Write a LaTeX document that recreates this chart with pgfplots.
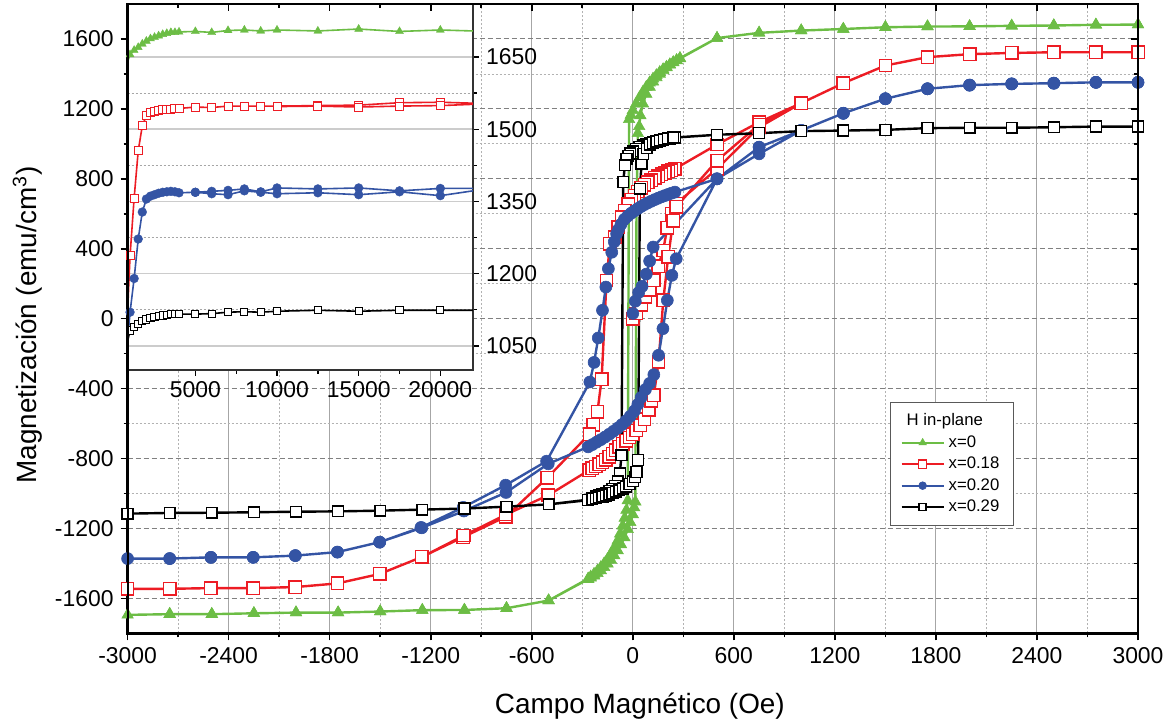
\documentclass[border=0pt]{standalone}
\usepackage{fontspec}
\setmainfont{Liberation Sans}
\usepackage{pgfplots}
\pgfplotsset{compat=1.18}
\definecolor{cgreen}{RGB}{108,189,69}
\definecolor{cred}{RGB}{237,28,36}
\definecolor{cblue}{RGB}{52,84,164}
\begin{document}
\begin{tikzpicture}
\pgfplotsset{/pgf/number format/1000 sep={}, /pgf/number format/assume math mode=true}
\begin{axis}[name=main, width=505.2bp, height=314.7bp, scale only axis,
  xmin=-3000, xmax=3000, ymin=-1800, ymax=1800,
  xtick={-3000,-2400,...,3000}, ytick={-1600,-1200,...,1600},
  minor x tick num=1, minor y tick num=1,
  xtick pos=left, ytick pos=left, tick align=outside,
  major tick length=3.5bp, minor tick length=2bp,
  every tick/.style={black, line width=0.8bp},
  grid=both,
  major x grid style={black!35, line width=0.5bp},
  major y grid style={black!50, dash pattern=on 2.5bp off 1.5bp, line width=0.5bp},
  minor x grid style={black!30, dash pattern=on 1bp off 1bp, line width=0.4bp},
  minor y grid style={black!30, dash pattern=on 1bp off 1bp, line width=0.4bp},
  axis line style={line width=1.1bp},
  ticklabel style={font=\fontsize{11.5}{13}\selectfont},
  xlabel={Campo Magnético (Oe)},
  ylabel={Magnetización (emu/cm\textsuperscript{3})},
  label style={font=\fontsize{14}{16}\selectfont},
  xlabel style={at={(axis description cs:0.507,-0.116)}, anchor=center},
  ylabel style={at={(axis description cs:-0.099,0.49)}, anchor=center},
  legend style={at={(axis description cs:0.7546,0.3677)}, anchor=north west,
    draw=black!65, line width=0.6bp, font=\fontsize{8.4}{9.5}\selectfont,
    inner xsep=5bp, inner ysep=3.5bp, row sep=-0.6bp, cells={anchor=west}},
  legend image code/.code={\draw[mark repeat=2,mark phase=2,line width=1bp,every mark/.append style={scale=0.65}] plot coordinates {(0bp,0bp) (10.5bp,0bp) (21bp,0bp)};},
]
\addlegendimage{legend image code/.code={}}
\addlegendentry{\hspace*{-21bp}H in-plane}
% x = 0
\addplot[cgreen, line width=1.2bp, mark=triangle*, mark size=3.3bp, mark options={fill=cgreen, draw=cgreen, line width=0.3bp}] coordinates {
(3000,1682)(2750,1681)(2500,1677)(2250,1675)(2000,1672)(1750,1671)(1500,1667)(1250,1657)(1000,1648)(750,1635)(500,1605)(280,1490)(260,1478)(240,1466)(220,1454)(200,1440)(180,1426)(160,1410)(140,1392)(120,1372)(100,1350)(80,1325)(60,1297)(40,1265)(20,1230)(0,1192)(-12,1165)(-22,1140)(-30,-1040)(-38,-1095)(-48,-1140)(-60,-1185)(-75,-1230)(-90,-1270)(-110,-1310)(-130,-1345)(-150,-1375)(-170,-1400)(-190,-1422)(-210,-1442)(-230,-1460)(-250,-1476)(-265,-1487)(-500,-1612)(-750,-1656)(-1000,-1666)(-1250,-1667)(-1500,-1675)(-1750,-1681)(-2000,-1681)(-2250,-1685)(-2500,-1690)(-2750,-1690)(-3000,-1694)
(-2750,-1690)(-2500,-1690)(-2250,-1685)(-2000,-1681)(-1750,-1681)(-1500,-1675)(-1250,-1667)(-1000,-1666)(-750,-1656)(-500,-1612)(-265,-1490)(-250,-1482)(-230,-1470)(-210,-1456)(-190,-1440)(-170,-1422)(-150,-1402)(-130,-1380)(-110,-1355)(-90,-1326)(-70,-1292)(-50,-1252)(-30,-1205)(-15,-1165)(0,-1120)(8,-1080)(15,-1047)(22,638)(30,1060)(38,1100)(45,1162)(60,1230)(80,1285)(100,1325)(120,1355)(140,1380)(160,1400)(180,1420)(200,1437)(220,1452)(240,1465)(260,1477)(280,1488)(500,1605)(750,1635)(1000,1648)(1250,1657)(1500,1667)(1750,1671)(2000,1672)(2250,1675)(2500,1677)(2750,1681)(3000,1682)
};
\addlegendentry{x=0}
% x = 0.18
\addplot[cred, line width=1.2bp, mark=square*, mark size=3.1bp, mark options={fill=white, draw=cred, line width=0.7bp}] coordinates {
(0,0)(20,30)(50,80)(75,125)(100,165)(125,220)(150,300)(180,390)(205,520)(232,600)(258,658)(500,857)(750,1095)(1000,1233)(1250,1347)(1500,1448)(1750,1496)(2000,1513)(2250,1520)(2500,1524)(2750,1524)(3000,1524)
(2750,1524)(2500,1524)(2250,1520)(2000,1513)(1750,1496)(1500,1448)(1250,1347)(1000,1233)(750,1124)(500,996)(250,857)(230,850)(210,843)(190,835)(170,826)(150,816)(130,805)(110,793)(90,780)(70,765)(50,748)(30,728)(10,705)(-10,680)(-27,655)(-47,619)(-67,581)(-87,524)(-106,467)(-136,429)(-156,219)(-185,-345)(-210,-533)(-235,-606)(-257,-660)(-508,-910)(-755,-1133)(-1007,-1249)(-1253,-1363)(-1503,-1460)(-1754,-1514)(-2004,-1535)(-2254,-1541)(-2505,-1541)(-2750,-1545)(-3000,-1545)
(-2750,-1545)(-2505,-1541)(-2254,-1541)(-2004,-1535)(-1754,-1514)(-1503,-1460)(-1253,-1363)(-1003,-1240)(-753,-1120)(-502,-1010)(-259,-866)(-240,-855)(-220,-845)(-200,-833)(-180,-820)(-160,-806)(-140,-790)(-120,-772)(-100,-752)(-80,-733)(-60,-715)(-40,-698)(-20,-680)(0,-660)(20,-640)(45,-610)(70,-575)(95,-520)(110,-470)(125,-438)(153,-247)(181,105)(210,353)(240,560)(258,640)(500,904)(750,1110)(1000,1233)(1250,1347)(1500,1448)(1750,1496)(2000,1513)(2250,1520)(2500,1524)(2750,1524)(3000,1524)
};
\addlegendentry{x=0.18}
% x = 0.20
\addplot[cblue, line width=1.2bp, mark=*, mark size=3bp, mark options={fill=cblue, draw=cblue, line width=0.3bp}] coordinates {
(0,30)(15,100)(35,150)(55,185)(80,255)(100,330)(121,410)(500,800)(750,943)(1000,1077)(1250,1175)(1500,1258)(1750,1315)(2000,1336)(2250,1343)(2500,1347)(2750,1352)(3000,1352)
(2750,1352)(2500,1347)(2250,1343)(2000,1336)(1750,1315)(1500,1258)(1250,1175)(1000,1077)(750,981)(500,800)(250,724)(230,718)(210,711)(190,704)(170,697)(150,689)(130,681)(110,672)(90,663)(70,653)(50,642)(30,630)(10,617)(-10,603)(-30,587)(-50,568)(-70,540)(-85,510)(-96,486)(-110,440)(-125,380)(-145,286)(-160,181)(-180,48)(-205,-110)(-230,-250)(-255,-362)(-512,-815)(-755,-952)(-1007,-1079)(-1258,-1194)(-1503,-1278)(-1754,-1335)(-2004,-1355)(-2254,-1365)(-2505,-1365)(-2750,-1372)(-3000,-1372)
(-2750,-1372)(-2505,-1365)(-2254,-1365)(-2004,-1355)(-1754,-1335)(-1503,-1278)(-1253,-1196)(-1003,-1100)(-753,-994)(-502,-830)(-265,-733)(-240,-720)(-215,-706)(-190,-692)(-165,-677)(-140,-661)(-115,-644)(-90,-626)(-65,-606)(-40,-584)(-15,-558)(10,-527)(30,-490)(50,-450)(75,-405)(100,-370)(125,-320)(153,-209)(179,-57)(205,105)(232,248)(258,343)(500,800)(750,981)(1000,1077)(1250,1175)(1500,1258)(1750,1315)(2000,1336)(2250,1343)(2500,1347)(2750,1352)(3000,1352)
};
\addlegendentry{x=0.20}
% x = 0.29
\addplot[black, line width=1.2bp, mark=square*, mark size=2.7bp, mark options={fill=white, draw=black, line width=0.7bp}] coordinates {
(3000,1099)(2750,1099)(2500,1095)(2250,1092)(2000,1092)(1750,1090)(1500,1080)(1250,1076)(1000,1073)(750,1061)(500,1052)(250,1036)(220,1031)(200,1027)(180,1023)(160,1019)(140,1015)(120,1010)(100,1004)(80,999)(60,991)(40,981)(20,971)(0,958)(-15,945)(-27,932)(-37,915)(-47,877)(-57,781)(-67,-781)(-77,-884)(-90,-930)(-105,-955)(-120,-972)(-140,-985)(-160,-995)(-180,-1003)(-200,-1010)(-220,-1017)(-240,-1025)(-265,-1035)(-500,-1062)(-750,-1075)(-1000,-1086)(-1250,-1092)(-1500,-1098)(-1750,-1102)(-2000,-1104)(-2250,-1107)(-2500,-1110)(-2750,-1111)(-3000,-1115)
(-2750,-1111)(-2500,-1110)(-2250,-1107)(-2000,-1104)(-1750,-1102)(-1500,-1098)(-1250,-1092)(-1000,-1086)(-750,-1075)(-500,-1062)(-265,-1038)(-240,-1032)(-220,-1027)(-200,-1022)(-180,-1017)(-160,-1011)(-140,-1005)(-120,-998)(-100,-990)(-80,-981)(-60,-971)(-40,-960)(-20,-946)(0,-930)(12,-905)(22,-876)(32,-809)(42,743)(52,886)(62,943)(82,975)(102,995)(121,1006)(141,1014)(161,1020)(185,1026)(210,1031)(240,1036)(500,1052)(750,1061)(1000,1073)(1250,1076)(1500,1080)(1750,1090)(2000,1092)(2250,1092)(2500,1095)(2750,1099)(3000,1099)
};
\addlegendentry{x=0.29}
\end{axis}
% inset
\begin{axis}[at={(main.north west)}, anchor=north west, width=172.7bp, height=183bp, scale only axis,
  xmin=850, xmax=22000, ymin=1000, ymax=1760,
  xtick={5000,10000,15000,20000}, minor x tick num=1,
  ytick={1050,1200,...,1650}, minor y tick num=1,
  xtick pos=left, ytick pos=right, yticklabel pos=right, tick align=outside,
  scaled ticks=false,
  major tick length=3bp, minor tick length=1.8bp,
  every tick/.style={black, line width=0.7bp},
  ymajorgrids, yminorgrids,
  major y grid style={black!20, line width=0.8bp},
  minor y grid style={black!35, dash pattern=on 1bp off 1bp, line width=0.4bp},
  axis background/.style={fill=white},
  axis line style={black!80, line width=0.7bp},
  ticklabel style={font=\fontsize{11.5}{13}\selectfont},
  xticklabel style={yshift=1bp},
]
\addplot[cgreen, line width=0.8bp, mark=triangle*, mark size=2.3bp, mark options={fill=cgreen, draw=cgreen, line width=0.2bp}] coordinates {
(500,1600)(750,1630)(1000,1655)(1250,1664)(1500,1670)(1750,1677)(2000,1683)(2250,1688)(2500,1691)(2750,1694)(3000,1697)(3250,1699)(3500,1701)(3750,1701)(4000,1702)(5000,1703)(6000,1701)(7000,1705)(8000,1706)(9000,1704)(10000,1706)(12500,1704)(15000,1708)(17500,1703)(20000,1706)(23000,1703)
};
\addplot[cred, line width=0.8bp, mark=square*, mark size=2bp, mark options={fill=white, draw=cred, line width=0.5bp}] coordinates {
(500,830)(750,1045)(1000,1237)(1250,1357)(1500,1455)(1750,1507)(2000,1528)(2250,1534)(2500,1536)(2750,1539)(3000,1540)(3250,1541)(3500,1541)(3750,1542)(4000,1543)(5000,1546)(6000,1545)(7000,1548)(8000,1548)(9000,1548)(10000,1548)(12500,1549)(15000,1550)(17500,1555)(20000,1556)(23000,1553)(20000,1549)(17500,1548)(15000,1546)(12500,1548)(10000,1547)
};
\addplot[cblue, line width=0.8bp, mark=*, mark size=2.2bp, mark options={fill=cblue, draw=cblue, line width=0.2bp}] coordinates {
(500,900)(750,1020)(1000,1120)(1250,1190)(1500,1272)(1750,1328)(2000,1355)(2250,1361)(2500,1364)(2750,1367)(3000,1369)(3250,1370)(3500,1371)(3750,1370)(4000,1368)(5000,1369)(6000,1371)(7000,1373)(8000,1376)(9000,1370)(10000,1378)(12500,1376)(15000,1378)(17500,1372)(20000,1377)(23000,1377)(20000,1362)(17500,1370)(15000,1364)(12500,1368)(10000,1366)(9000,1369)(8000,1372)(7000,1364)(6000,1366)(5000,1369)
};
\addplot[black, line width=0.8bp, mark=square*, mark size=1.8bp, mark options={fill=white, draw=black, line width=0.5bp}] coordinates {
(500,900)(750,1045)(1000,1082)(1250,1089)(1500,1096)(1750,1101)(2000,1105)(2250,1108)(2500,1110)(2750,1112)(3000,1113)(3250,1114)(3500,1116)(3750,1116)(4000,1116)(5000,1116)(6000,1117)(7000,1120)(8000,1121)(9000,1120)(10000,1122)(12500,1124)(15000,1122)(17500,1124)(20000,1124)(23000,1124)
};
\end{axis}
% frame and mirrored ticks
\begin{axis}[at={(main.south west)}, anchor=south west, width=505.2bp, height=314.7bp, scale only axis,
  xmin=-3000, xmax=3000, ymin=-1800, ymax=1800,
  xtick={-3000,-2400,...,3000}, ytick={-1600,-1200,...,1600},
  minor x tick num=1, minor y tick num=1,
  xtick pos=right, ytick pos=right, tick align=inside,
  xticklabels={}, yticklabels={},
  major tick length=3.5bp, minor tick length=2bp,
  every tick/.style={black, line width=0.8bp},
  axis line style={line width=1.1bp},
]
\end{axis}
\pgfresetboundingbox
\useasboundingbox (main.south west) ++(-63.8bp,-45.3bp) rectangle ++(586bp,362bp);
\end{tikzpicture}
\end{document}
